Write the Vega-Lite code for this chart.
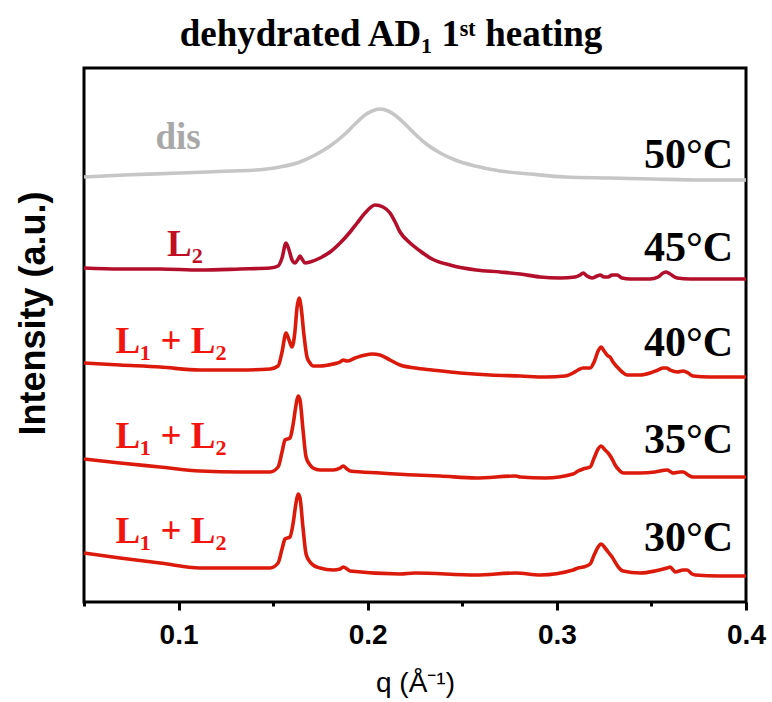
{
  "$schema": "https://vega.github.io/schema/vega-lite/v6.json",
  "autosize": "none",
  "width": 662,
  "height": 534,
  "padding": {"left": 84, "top": 68, "right": 26, "bottom": 100},
  "background": "white",
  "config": {
    "view": {"stroke": "black", "strokeWidth": 3},
    "font": "Liberation Sans"
  },
  "title": {
    "text": "dehydrated AD₁ 1ˢᵗ heating",
    "font": "Liberation Serif",
    "fontSize": 37,
    "fontWeight": "bold",
    "color": "black",
    "anchor": "middle",
    "dx": -24,
    "offset": 14
  },
  "datasets": {
    "curves": [
      {"T": "50°C", "q": 0.0500, "I": 425}, {"T": "50°C", "q": 0.0712, "I": 427}, {"T": "50°C", "q": 0.1008, "I": 429},
      {"T": "50°C", "q": 0.1272, "I": 431}, {"T": "50°C", "q": 0.1410, "I": 432}, {"T": "50°C", "q": 0.1536, "I": 435},
      {"T": "50°C", "q": 0.1642, "I": 440}, {"T": "50°C", "q": 0.1722, "I": 447}, {"T": "50°C", "q": 0.1801, "I": 456},
      {"T": "50°C", "q": 0.1880, "I": 468}, {"T": "50°C", "q": 0.1933, "I": 478}, {"T": "50°C", "q": 0.1986, "I": 487},
      {"T": "50°C", "q": 0.2023, "I": 491}, {"T": "50°C", "q": 0.2065, "I": 493}, {"T": "50°C", "q": 0.2108, "I": 491},
      {"T": "50°C", "q": 0.2150, "I": 486}, {"T": "50°C", "q": 0.2197, "I": 478}, {"T": "50°C", "q": 0.2250, "I": 468},
      {"T": "50°C", "q": 0.2303, "I": 459}, {"T": "50°C", "q": 0.2383, "I": 449}, {"T": "50°C", "q": 0.2462, "I": 442},
      {"T": "50°C", "q": 0.2568, "I": 436}, {"T": "50°C", "q": 0.2700, "I": 431}, {"T": "50°C", "q": 0.2858, "I": 428},
      {"T": "50°C", "q": 0.3044, "I": 425}, {"T": "50°C", "q": 0.3281, "I": 424}, {"T": "50°C", "q": 0.3509, "I": 423},
      {"T": "50°C", "q": 0.3757, "I": 422}, {"T": "50°C", "q": 0.4000, "I": 422},

      {"T": "45°C", "q": 0.0500, "I": 334}, {"T": "45°C", "q": 0.0690, "I": 333}, {"T": "45°C", "q": 0.0902, "I": 333},
      {"T": "45°C", "q": 0.1113, "I": 332}, {"T": "45°C", "q": 0.1325, "I": 333}, {"T": "45°C", "q": 0.1484, "I": 334},
      {"T": "45°C", "q": 0.1526, "I": 336}, {"T": "45°C", "q": 0.1547, "I": 344}, {"T": "45°C", "q": 0.1568, "I": 359},
      {"T": "45°C", "q": 0.1584, "I": 352}, {"T": "45°C", "q": 0.1600, "I": 342}, {"T": "45°C", "q": 0.1616, "I": 339},
      {"T": "45°C", "q": 0.1632, "I": 343}, {"T": "45°C", "q": 0.1642, "I": 346}, {"T": "45°C", "q": 0.1653, "I": 343},
      {"T": "45°C", "q": 0.1669, "I": 339}, {"T": "45°C", "q": 0.1695, "I": 340}, {"T": "45°C", "q": 0.1748, "I": 344},
      {"T": "45°C", "q": 0.1801, "I": 350}, {"T": "45°C", "q": 0.1854, "I": 359}, {"T": "45°C", "q": 0.1907, "I": 370},
      {"T": "45°C", "q": 0.1944, "I": 379}, {"T": "45°C", "q": 0.1986, "I": 389}, {"T": "45°C", "q": 0.2039, "I": 397},
      {"T": "45°C", "q": 0.2081, "I": 395}, {"T": "45°C", "q": 0.2118, "I": 389}, {"T": "45°C", "q": 0.2145, "I": 380},
      {"T": "45°C", "q": 0.2171, "I": 370}, {"T": "45°C", "q": 0.2224, "I": 359}, {"T": "45°C", "q": 0.2277, "I": 351},
      {"T": "45°C", "q": 0.2340, "I": 343}, {"T": "45°C", "q": 0.2435, "I": 337}, {"T": "45°C", "q": 0.2573, "I": 332},
      {"T": "45°C", "q": 0.2700, "I": 330}, {"T": "45°C", "q": 0.2806, "I": 328}, {"T": "45°C", "q": 0.2911, "I": 325},
      {"T": "45°C", "q": 0.3017, "I": 324}, {"T": "45°C", "q": 0.3096, "I": 325}, {"T": "45°C", "q": 0.3123, "I": 327},
      {"T": "45°C", "q": 0.3139, "I": 329}, {"T": "45°C", "q": 0.3160, "I": 326}, {"T": "45°C", "q": 0.3186, "I": 324},
      {"T": "45°C", "q": 0.3213, "I": 326}, {"T": "45°C", "q": 0.3229, "I": 327}, {"T": "45°C", "q": 0.3250, "I": 325},
      {"T": "45°C", "q": 0.3271, "I": 325}, {"T": "45°C", "q": 0.3292, "I": 327}, {"T": "45°C", "q": 0.3319, "I": 327},
      {"T": "45°C", "q": 0.3345, "I": 324}, {"T": "45°C", "q": 0.3387, "I": 323}, {"T": "45°C", "q": 0.3493, "I": 323},
      {"T": "45°C", "q": 0.3535, "I": 325}, {"T": "45°C", "q": 0.3562, "I": 329}, {"T": "45°C", "q": 0.3578, "I": 330},
      {"T": "45°C", "q": 0.3599, "I": 328}, {"T": "45°C", "q": 0.3636, "I": 324}, {"T": "45°C", "q": 0.3705, "I": 323},
      {"T": "45°C", "q": 0.3863, "I": 323}, {"T": "45°C", "q": 0.4000, "I": 323},

      {"T": "40°C", "q": 0.0500, "I": 239}, {"T": "40°C", "q": 0.0690, "I": 237}, {"T": "40°C", "q": 0.0902, "I": 235},
      {"T": "40°C", "q": 0.1113, "I": 232}, {"T": "40°C", "q": 0.1325, "I": 232}, {"T": "40°C", "q": 0.1484, "I": 233},
      {"T": "40°C", "q": 0.1526, "I": 236}, {"T": "40°C", "q": 0.1547, "I": 250}, {"T": "40°C", "q": 0.1568, "I": 269},
      {"T": "40°C", "q": 0.1584, "I": 262}, {"T": "40°C", "q": 0.1600, "I": 255}, {"T": "40°C", "q": 0.1616, "I": 272},
      {"T": "40°C", "q": 0.1626, "I": 294}, {"T": "40°C", "q": 0.1637, "I": 304}, {"T": "40°C", "q": 0.1647, "I": 296},
      {"T": "40°C", "q": 0.1663, "I": 267}, {"T": "40°C", "q": 0.1679, "I": 245}, {"T": "40°C", "q": 0.1695, "I": 239},
      {"T": "40°C", "q": 0.1711, "I": 236}, {"T": "40°C", "q": 0.1748, "I": 236}, {"T": "40°C", "q": 0.1817, "I": 238},
      {"T": "40°C", "q": 0.1854, "I": 240}, {"T": "40°C", "q": 0.1870, "I": 242}, {"T": "40°C", "q": 0.1891, "I": 241},
      {"T": "40°C", "q": 0.1933, "I": 244}, {"T": "40°C", "q": 0.1986, "I": 247}, {"T": "40°C", "q": 0.2023, "I": 248},
      {"T": "40°C", "q": 0.2065, "I": 247}, {"T": "40°C", "q": 0.2118, "I": 242}, {"T": "40°C", "q": 0.2171, "I": 237},
      {"T": "40°C", "q": 0.2250, "I": 234}, {"T": "40°C", "q": 0.2340, "I": 232}, {"T": "40°C", "q": 0.2488, "I": 229},
      {"T": "40°C", "q": 0.2647, "I": 227}, {"T": "40°C", "q": 0.2806, "I": 226}, {"T": "40°C", "q": 0.2938, "I": 225},
      {"T": "40°C", "q": 0.3044, "I": 226}, {"T": "40°C", "q": 0.3086, "I": 229}, {"T": "40°C", "q": 0.3112, "I": 232},
      {"T": "40°C", "q": 0.3139, "I": 234}, {"T": "40°C", "q": 0.3176, "I": 234}, {"T": "40°C", "q": 0.3197, "I": 240},
      {"T": "40°C", "q": 0.3218, "I": 251}, {"T": "40°C", "q": 0.3234, "I": 255}, {"T": "40°C", "q": 0.3250, "I": 251},
      {"T": "40°C", "q": 0.3271, "I": 246}, {"T": "40°C", "q": 0.3281, "I": 245}, {"T": "40°C", "q": 0.3297, "I": 240},
      {"T": "40°C", "q": 0.3319, "I": 235}, {"T": "40°C", "q": 0.3345, "I": 230}, {"T": "40°C", "q": 0.3371, "I": 227},
      {"T": "40°C", "q": 0.3440, "I": 227}, {"T": "40°C", "q": 0.3493, "I": 229}, {"T": "40°C", "q": 0.3535, "I": 232},
      {"T": "40°C", "q": 0.3562, "I": 234}, {"T": "40°C", "q": 0.3578, "I": 234}, {"T": "40°C", "q": 0.3599, "I": 232},
      {"T": "40°C", "q": 0.3636, "I": 230}, {"T": "40°C", "q": 0.3668, "I": 231}, {"T": "40°C", "q": 0.3694, "I": 229},
      {"T": "40°C", "q": 0.3720, "I": 226}, {"T": "40°C", "q": 0.3810, "I": 225}, {"T": "40°C", "q": 0.4000, "I": 225},

      {"T": "35°C", "q": 0.0500, "I": 143}, {"T": "35°C", "q": 0.0690, "I": 139}, {"T": "35°C", "q": 0.0902, "I": 135},
      {"T": "35°C", "q": 0.1113, "I": 131}, {"T": "35°C", "q": 0.1325, "I": 130}, {"T": "35°C", "q": 0.1484, "I": 130},
      {"T": "35°C", "q": 0.1526, "I": 135}, {"T": "35°C", "q": 0.1547, "I": 150}, {"T": "35°C", "q": 0.1563, "I": 162},
      {"T": "35°C", "q": 0.1589, "I": 164}, {"T": "35°C", "q": 0.1605, "I": 177}, {"T": "35°C", "q": 0.1621, "I": 197},
      {"T": "35°C", "q": 0.1632, "I": 206}, {"T": "35°C", "q": 0.1642, "I": 202}, {"T": "35°C", "q": 0.1658, "I": 172},
      {"T": "35°C", "q": 0.1674, "I": 145}, {"T": "35°C", "q": 0.1695, "I": 137}, {"T": "35°C", "q": 0.1711, "I": 134},
      {"T": "35°C", "q": 0.1748, "I": 132}, {"T": "35°C", "q": 0.1817, "I": 132}, {"T": "35°C", "q": 0.1854, "I": 134},
      {"T": "35°C", "q": 0.1870, "I": 136}, {"T": "35°C", "q": 0.1891, "I": 133}, {"T": "35°C", "q": 0.1907, "I": 131},
      {"T": "35°C", "q": 0.2065, "I": 129}, {"T": "35°C", "q": 0.2250, "I": 127}, {"T": "35°C", "q": 0.2383, "I": 126},
      {"T": "35°C", "q": 0.2573, "I": 124}, {"T": "35°C", "q": 0.2784, "I": 126}, {"T": "35°C", "q": 0.2806, "I": 125},
      {"T": "35°C", "q": 0.2938, "I": 124}, {"T": "35°C", "q": 0.3086, "I": 128}, {"T": "35°C", "q": 0.3112, "I": 131},
      {"T": "35°C", "q": 0.3139, "I": 133}, {"T": "35°C", "q": 0.3176, "I": 135}, {"T": "35°C", "q": 0.3197, "I": 144},
      {"T": "35°C", "q": 0.3218, "I": 153}, {"T": "35°C", "q": 0.3234, "I": 156}, {"T": "35°C", "q": 0.3255, "I": 152},
      {"T": "35°C", "q": 0.3271, "I": 149}, {"T": "35°C", "q": 0.3292, "I": 143}, {"T": "35°C", "q": 0.3308, "I": 137},
      {"T": "35°C", "q": 0.3329, "I": 132}, {"T": "35°C", "q": 0.3350, "I": 129}, {"T": "35°C", "q": 0.3440, "I": 129},
      {"T": "35°C", "q": 0.3519, "I": 130}, {"T": "35°C", "q": 0.3583, "I": 132}, {"T": "35°C", "q": 0.3604, "I": 130},
      {"T": "35°C", "q": 0.3615, "I": 129}, {"T": "35°C", "q": 0.3652, "I": 130}, {"T": "35°C", "q": 0.3668, "I": 130},
      {"T": "35°C", "q": 0.3694, "I": 127}, {"T": "35°C", "q": 0.3720, "I": 125}, {"T": "35°C", "q": 0.3863, "I": 125},
      {"T": "35°C", "q": 0.4000, "I": 125},

      {"T": "30°C", "q": 0.0500, "I": 49}, {"T": "30°C", "q": 0.0690, "I": 44}, {"T": "30°C", "q": 0.0902, "I": 39},
      {"T": "30°C", "q": 0.1113, "I": 34}, {"T": "30°C", "q": 0.1325, "I": 34}, {"T": "30°C", "q": 0.1484, "I": 34},
      {"T": "30°C", "q": 0.1526, "I": 39}, {"T": "30°C", "q": 0.1547, "I": 53}, {"T": "30°C", "q": 0.1563, "I": 63},
      {"T": "30°C", "q": 0.1589, "I": 65}, {"T": "30°C", "q": 0.1605, "I": 78}, {"T": "30°C", "q": 0.1621, "I": 99},
      {"T": "30°C", "q": 0.1632, "I": 108}, {"T": "30°C", "q": 0.1642, "I": 104}, {"T": "30°C", "q": 0.1658, "I": 74},
      {"T": "30°C", "q": 0.1674, "I": 48}, {"T": "30°C", "q": 0.1695, "I": 40}, {"T": "30°C", "q": 0.1711, "I": 37},
      {"T": "30°C", "q": 0.1748, "I": 34}, {"T": "30°C", "q": 0.1817, "I": 32}, {"T": "30°C", "q": 0.1854, "I": 33},
      {"T": "30°C", "q": 0.1870, "I": 35}, {"T": "30°C", "q": 0.1891, "I": 33}, {"T": "30°C", "q": 0.1907, "I": 31},
      {"T": "30°C", "q": 0.2171, "I": 28}, {"T": "30°C", "q": 0.2250, "I": 29}, {"T": "30°C", "q": 0.2573, "I": 27},
      {"T": "30°C", "q": 0.2784, "I": 29}, {"T": "30°C", "q": 0.2911, "I": 27}, {"T": "30°C", "q": 0.3086, "I": 32},
      {"T": "30°C", "q": 0.3112, "I": 34}, {"T": "30°C", "q": 0.3139, "I": 35}, {"T": "30°C", "q": 0.3176, "I": 38},
      {"T": "30°C", "q": 0.3197, "I": 47}, {"T": "30°C", "q": 0.3218, "I": 55}, {"T": "30°C", "q": 0.3234, "I": 58},
      {"T": "30°C", "q": 0.3255, "I": 54}, {"T": "30°C", "q": 0.3271, "I": 50}, {"T": "30°C", "q": 0.3292, "I": 45},
      {"T": "30°C", "q": 0.3308, "I": 40}, {"T": "30°C", "q": 0.3329, "I": 34}, {"T": "30°C", "q": 0.3350, "I": 31},
      {"T": "30°C", "q": 0.3440, "I": 29}, {"T": "30°C", "q": 0.3519, "I": 31}, {"T": "30°C", "q": 0.3583, "I": 34},
      {"T": "30°C", "q": 0.3599, "I": 35}, {"T": "30°C", "q": 0.3615, "I": 32}, {"T": "30°C", "q": 0.3625, "I": 30},
      {"T": "30°C", "q": 0.3668, "I": 32}, {"T": "30°C", "q": 0.3689, "I": 32}, {"T": "30°C", "q": 0.3715, "I": 28},
      {"T": "30°C", "q": 0.3731, "I": 27}, {"T": "30°C", "q": 0.3863, "I": 26}, {"T": "30°C", "q": 0.4000, "I": 26}
    ],
    "phases": [
      {"T": "50°C", "label": "dis", "q": 0.0997, "I": 464},
      {"T": "45°C", "label": "L₂", "q": 0.1034, "I": 357},
      {"T": "40°C", "label": "L₁ + L₂", "q": 0.0960, "I": 260},
      {"T": "35°C", "label": "L₁ + L₂", "q": 0.0960, "I": 165},
      {"T": "30°C", "label": "L₁ + L₂", "q": 0.0960, "I": 70}
    ],
    "temps": [
      {"T": "50°C", "q": 0.3932, "I": 447},
      {"T": "45°C", "q": 0.3932, "I": 354},
      {"T": "40°C", "q": 0.3932, "I": 259},
      {"T": "35°C", "q": 0.3932, "I": 162},
      {"T": "30°C", "q": 0.3932, "I": 64}
    ]
  },
  "encoding": {
    "x": {
      "field": "q",
      "type": "quantitative",
      "scale": {"domain": [0.05, 0.4], "nice": false, "zero": false},
      "axis": {
        "title": "q (Å⁻¹)",
        "titleFont": "Liberation Sans",
        "titleFontSize": 28,
        "titleFontWeight": "normal",
        "titleColor": "black",
        "titlePadding": 20,
        "values": [0.05, 0.1, 0.15, 0.2, 0.25, 0.3, 0.35, 0.4],
        "labelExpr": "abs(datum.value * 10 - round(datum.value * 10)) < 0.01 ? format(datum.value, '.1f') : ''",
        "labelFont": "Liberation Sans",
        "labelFontSize": 28,
        "labelFontWeight": "bold",
        "labelColor": "black",
        "labelPadding": 11,
        "labelOverlap": false,
        "labelFlush": false,
        "domain": false,
        "grid": false,
        "ticks": true,
        "tickColor": "black",
        "tickWidth": 3,
        "tickSize": {"condition": {"test": "abs(datum.value * 10 - round(datum.value * 10)) < 0.01", "value": 8}, "value": 4}
      }
    },
    "y": {
      "field": "I",
      "type": "quantitative",
      "scale": {"domain": [0, 534], "nice": false, "zero": false},
      "axis": {
        "title": "Intensity (a.u.)",
        "titleFont": "Liberation Sans",
        "titleFontSize": 36,
        "titleFontWeight": "bold",
        "titleColor": "black",
        "titlePadding": 32,
        "titleY": 245,
        "labels": false,
        "ticks": false,
        "domain": false,
        "grid": false
      }
    }
  },
  "layer": [
    {
      "data": {"name": "curves"},
      "mark": {"type": "line", "strokeWidth": 3.6, "interpolate": "monotone"},
      "encoding": {
        "color": {
          "field": "T",
          "type": "nominal",
          "scale": {
            "domain": ["50°C", "45°C", "40°C", "35°C", "30°C"],
            "range": ["#c6c6c6", "#b30f2c", "#db1a0c", "#db1a0c", "#db1a0c"]
          },
          "legend": null
        },
        "detail": {"field": "T"}
      }
    },
    {
      "data": {"name": "phases"},
      "mark": {"type": "text", "font": "Liberation Serif", "fontSize": 37, "fontWeight": "bold", "align": "center", "baseline": "middle"},
      "encoding": {
        "text": {"field": "label"},
        "color": {
          "field": "T",
          "type": "nominal",
          "scale": {
            "domain": ["50°C", "45°C", "40°C", "35°C", "30°C"],
            "range": ["#a8a8a8", "#c00f25", "#f2150f", "#f2150f", "#f2150f"]
          },
          "legend": null
        }
      }
    },
    {
      "data": {"name": "temps"},
      "mark": {"type": "text", "font": "Liberation Serif", "fontSize": 42, "fontWeight": "bold", "align": "right", "baseline": "middle", "color": "black"},
      "encoding": {
        "text": {"field": "T"}
      }
    }
  ],
  "resolve": {"scale": {"color": "independent"}}
}
